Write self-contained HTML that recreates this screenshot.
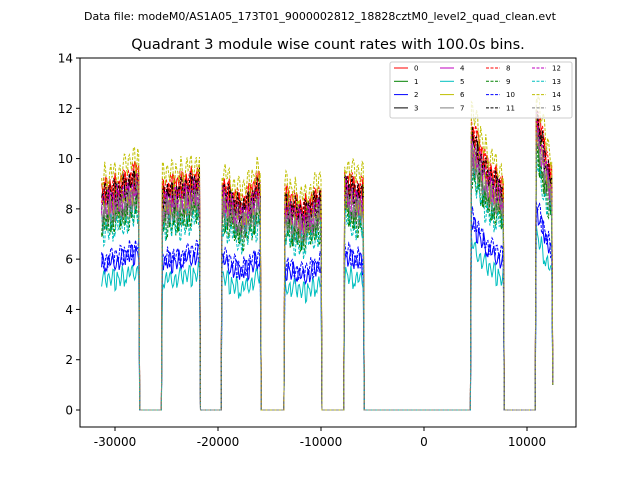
<!DOCTYPE html>
<html><head><meta charset="utf-8"><style>
body{margin:0;background:#fff;}
svg{display:block;font-family:"DejaVu Sans","Liberation Sans",sans-serif;}
</style></head><body>
<svg id="chart" width="640" height="480" xmlns="http://www.w3.org/2000/svg">
<text x="320" y="20" font-size="11" text-anchor="middle">Data file: modeM0/AS1A05_173T01_9000002812_18828cztM0_level2_quad_clean.evt</text>
<text x="328" y="49" font-size="14.5" text-anchor="middle">Quadrant 3 module wise count rates with 100.0s bins.</text>
<g id="plot"></g>
<rect x="80" y="58" width="496" height="369" fill="none" stroke="#000" stroke-width="1"/>
<g id="axes"></g>
<text x="576" y="494" font-size="12" text-anchor="end">+2.91e8</text>
<g id="legend"></g>
</svg>
<script>
const seriesNames=["0","1","2","3","4","5","6","7","8","9","10","11","12","13","14","15"];
const seriesColors=["#ff0000","#008000","#0000ff","#000000","#bf00bf","#00bfbf","#bfbf00","#808080","#ff0000","#008000","#0000ff","#000000","#bf00bf","#00bfbf","#bfbf00","#808080"];
const seriesLevel=[9.0,7.8,6.0,8.6,8.3,5.3,8.4,8.0,9.0,7.6,6.2,8.8,8.5,7.4,9.6,8.1];
const segStart=[-31350,-25440,-19610,-13590,-7770,4560,10870];
const segEnd=[-27670,-21750,-15830,-10000,-5830,7770,12520];
const segProfStart=[0.96,0.97,0.99,0.94,1.03,1.25,1.34];
const segProfMid=[0.99,0.99,0.90,0.88,0.98,1.06,1.15];
const segProfEnd=[1.05,1.03,1.01,0.95,0.97,0.98,1.00];
const jitter=[0.3,-0.2,0.45,-0.35,0.1,-0.5,0.25,0.05,-0.3,0.4,-0.1,0.2,-0.45,0.35,-0.25,0.15,-0.05,0.5,-0.4,0.3,-0.15,0.05,0.35,-0.3,0.2,-0.2,0.1,-0.35,0.45,-0.1,0.25,-0.45,0.15,0.0,-0.25,0.4,-0.05];
const xTicks=[-30000,-20000,-10000,0,10000];
const yTicks=[0,2,4,6,8,10,12,14];
const tMin=-31300,tMax=12500,binW=100;

const X=t=>424+t*0.0103;
const Y=v=>410-v*25.143;
const NS="http://www.w3.org/2000/svg";
function mk(tag,attrs,parent){const e=document.createElementNS(NS,tag);for(const k in attrs)e.setAttribute(k,attrs[k]);parent.appendChild(e);return e;}

function valueAt(s,t,i){
  for(let g=0;g<segStart.length;g++){
    if(t>=segStart[g]&&t<=segEnd[g]){
      const f=(t-segStart[g])/(segEnd[g]-segStart[g]);
      let p=f<0.5?segProfStart[g]+(segProfMid[g]-segProfStart[g])*f*2:segProfMid[g]+(segProfEnd[g]-segProfMid[g])*(f-0.5)*2;
      let v=seriesLevel[s]*p+jitter[(i*7+s*5)%jitter.length]*(s===5||s===2||s===10?0.9:1.2);
      if(g===segStart.length-1&&t>segEnd[g]-100)v=1.0;
      return v;
    }
  }
  return 0;
}
const plot=document.getElementById('plot');
for(let s=0;s<16;s++){
  let d="";let i=0;
  for(let t=tMin;t<=tMax;t+=binW,i++){d+=(i?"L":"M")+X(t).toFixed(1)+","+Y(valueAt(s,t,i)).toFixed(1);}
  const p=mk('path',{d:d,fill:"none",stroke:seriesColors[s],"stroke-width":1,"stroke-dasharray":s>=8?"3,1.5":"none"},plot);
  
  
}
const axes=document.getElementById('axes');
xTicks.forEach(v=>{
  const x=X(v);
  mk('line',{x1:x,x2:x,y1:427,y2:431,stroke:"#000"},axes);
  const tx=mk('text',{x:x,y:446,"font-size":12,"text-anchor":"middle"},axes);tx.textContent=v;
  
  
});
yTicks.forEach(v=>{
  const y=Y(v);
  mk('line',{x1:76,x2:80,y1:y,y2:y,stroke:"#000"},axes);
  const tx=mk('text',{x:73,y:y+4.5,"font-size":12,"text-anchor":"end"},axes);tx.textContent=v;
  
  
});
const lg=document.getElementById('legend');
mk('rect',{x:390,y:62,width:182,height:56,rx:2,fill:"#fff","fill-opacity":0.8,stroke:"#ccc"},lg);
for(let s=0;s<16;s++){
  const c=Math.floor(s/4),r=s%4;const x=394+c*46,y=68+r*13.3;
  const ln=mk('line',{x1:x,x2:x+14,y1:y,y2:y,stroke:seriesColors[s],"stroke-width":1,"stroke-dasharray":s>=8?"3,1.5":"none"},lg);
  const tx=mk('text',{x:x+20,y:y+2.5,"font-size":7},lg);tx.textContent=seriesNames[s];
  
  
}
</script>
</body></html>
